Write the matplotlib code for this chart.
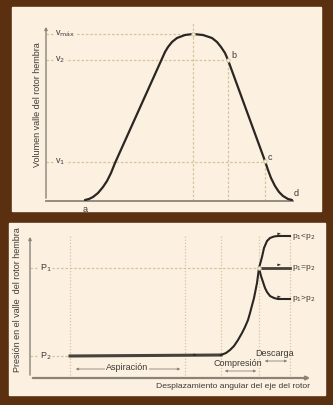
import matplotlib
matplotlib.use("Agg")
import matplotlib.pyplot as plt
from matplotlib.patches import Rectangle

plt.rcParams['font.family'] = ['Liberation Sans Narrow', 'Liberation Sans', 'DejaVu Sans']

# ---- data (arbitrary angle / volume / pressure units) ----
# top chart: volume of the female rotor lobe vs angle
vol_x = [39, 43, 47, 52, 57, 61, 65, 69, 119, 122, 126, 131, 139, 147, 157, 166, 171, 175,
         179, 182, 219, 222, 225, 229, 233, 237, 242, 246]
vol_y = [1, 2, 4, 8, 14, 20, 28, 38, 149, 154, 159, 163, 166, 167, 166, 163, 159, 154,
         148, 141, 40, 31, 23, 15, 9, 5, 2, 1]
v_levels = {"v$_{\\mathrm{máx}}$": 167, "v$_2$": 141, "v$_1$": 39}
x_peak, x_b, x_c = 147, 182, 219
point_labels = [("b", 185, 145), ("c", 222, 43), ("d", 248, 7), ("a", 39, -9)]

# bottom chart: pressure in the lobe vs angle
p1, p2 = 110, 22
x_marks = [40, 155, 191, 229, 260]
comp_x = [40, 191, 196, 200, 204, 208, 212, 215, 218, 220, 224, 227, 229, 232, 234, 237,
          240, 244, 248, 260]
comp_y = [22, 23, 25, 28, 32, 38, 45, 51, 58, 65, 80, 95, 110, 121, 130, 137, 140, 141.5,
          142, 142]
low_x = [229, 231, 233, 235, 237, 240, 244, 248, 260]
low_y = [110, 102, 96, 90, 86, 82, 80, 79, 79]
branch_labels = ["p$_1$<p$_2$", "p$_1$=p$_2$", "p$_1$>p$_2$"]
branch_y = [142, 110, 79]

brown = '#5a3011'
cream = '#fcf0e1'
grid_c = '#d5c49c'
line_c = '#2a2622'
axis_c = '#8a8478'
text_c = '#3c3a36'

fig = plt.figure(figsize=(3.33, 4.05), dpi=100, facecolor=brown)
W, H = 333, 405
fig.patches.append(Rectangle((12 / W, 1 - 211 / H), 309 / W, 204 / H,
                             transform=fig.transFigure, color=cream, zorder=-10))
fig.patches.append(Rectangle((9 / W, 1 - 395 / H), 316 / W, 172 / H,
                             transform=fig.transFigure, color=cream, zorder=-10))

dash = dict(color=grid_c, lw=0.9, ls=(0, (2, 1.5)), zorder=1)

# ---------------- top chart ----------------
ax1 = fig.add_axes([46 / W, 1 - 201 / H, 260 / W, 185 / H])
ax1.set_xlim(0, 260)
ax1.set_ylim(0, 185)
ax1.axis('off')

ax1.plot([0, 247], [0, 0], color=axis_c, lw=1.3, clip_on=False)
ax1.annotate('', xy=(0, 177), xytext=(0, 0),
             arrowprops=dict(arrowstyle='-|>', color=axis_c, lw=1.0, mutation_scale=4))

for lab, v in v_levels.items():
    xe = {167: x_peak, 141: x_b, 39: x_c}[v]
    ax1.plot([0, xe], [v, v], **dash)
    ax1.text(9, v, lab, fontsize=6.5, color=text_c, va='center', ha='left',
             bbox=dict(boxstyle='square,pad=0.1', fc=cream, ec='none'), zorder=2)

ax1.plot([x_peak, x_peak], [0, 178], **dash)
ax1.plot([x_b, x_b], [0, 141], **dash)
ax1.plot([x_c, x_c], [0, 40], **dash)

ax1.plot(vol_x, vol_y, color=line_c, lw=1.6, solid_capstyle='round',
         solid_joinstyle='round', zorder=3)
ax1.plot([x_peak, x_b, x_c], [167, 141, 40], 'o', ms=2.5, mfc=cream, mec=grid_c, mew=0.6, zorder=4)
for t, x, y in point_labels:
    ax1.text(x, y, t, fontsize=6.5, color=text_c, ha='left' if t != 'a' else 'center',
             va='center', clip_on=False)

fig.text(37 / W, 1 - 105 / H, "Volumen valle del rotor hembra", rotation=90,
         fontsize=6.5, color=text_c, ha='center', va='center')

# ---------------- bottom chart ----------------
ax2 = fig.add_axes([30 / W, 1 - 378 / H, 290 / W, 150 / H])
ax2.set_xlim(0, 290)
ax2.set_ylim(0, 150)
ax2.axis('off')

ax2.annotate('', xy=(283, 0), xytext=(0, 0),
             arrowprops=dict(arrowstyle='-|>', color=axis_c, lw=1.6, mutation_scale=5))
ax2.annotate('', xy=(0, 144), xytext=(0, 0),
             arrowprops=dict(arrowstyle='-|>', color=axis_c, lw=1.0, mutation_scale=4))

for xm in x_marks:
    ax2.plot([xm, xm], [0, 142], color=grid_c, lw=0.9, ls=(0, (1, 1.5)), zorder=1)
ax2.plot([0, 229], [p1, p1], **dash)
ax2.plot([0, 40], [p2, p2], **dash)
for lab, v in [("P$_1$", p1), ("P$_2$", p2)]:
    ax2.text(10, v, lab, fontsize=6.5, color=text_c, va='center', ha='left',
             bbox=dict(boxstyle='square,pad=0.1', fc=cream, ec='none'), zorder=2)

ax2.plot(comp_x[:2], comp_y[:2], color='#45413b', lw=2.2, zorder=3)
ax2.plot(comp_x[1:], comp_y[1:], color=line_c, lw=1.5, solid_joinstyle='round', zorder=3)
ax2.plot(low_x, low_y, color=line_c, lw=1.5, solid_joinstyle='round', zorder=3)
ax2.plot([229, 260], [p1, p1], color='#45413b', lw=2.0, zorder=3)
ax2.plot([229], [p1], 'o', ms=2.5, mfc=cream, mec=grid_c, mew=0.6, zorder=4)

for lab, y in zip(branch_labels, branch_y):
    ax2.text(262, y, lab, fontsize=6, color=text_c, va='center', ha='left')

# small flow direction marks
for xa, ya in [(166, 22), (250, 143), (250, 112), (250, 80)]:
    ax2.annotate('', xy=(xa + 3, ya + 1.2), xytext=(xa - 3, ya + 1.2),
                 arrowprops=dict(arrowstyle='-|>', color=line_c, lw=0.5, mutation_scale=3))

arrow_kw = dict(arrowstyle='<|-|>', color=axis_c, lw=0.6, mutation_scale=3.5)
ax2.annotate('', xy=(43, 9), xytext=(153, 9), arrowprops=arrow_kw)
ax2.text(97, 10, "Aspiración", fontsize=6.5, color=text_c, ha='center', va='center',
         bbox=dict(boxstyle='square,pad=0.15', fc=cream, ec='none'))
ax2.annotate('', xy=(192, 7), xytext=(229, 7), arrowprops=arrow_kw)
ax2.text(208, 15, "Compresión", fontsize=6.5, color=text_c, ha='center', va='center')
ax2.annotate('', xy=(232, 17), xytext=(260, 17), arrowprops=arrow_kw)
ax2.text(245, 25, "Descarga", fontsize=6.5, color=text_c, ha='center', va='center')

fig.text(310 / W, 1 - 387 / H, "Desplazamiento angular del eje del rotor",
         fontsize=6.1, color=text_c, ha='right', va='center')
fig.text(18 / W, 1 - 300 / H, "Presión en el valle  del rotor hembra", rotation=90,
         fontsize=6.5, color=text_c, ha='center', va='center')

fig.savefig("out.png", dpi=100, facecolor=brown)
